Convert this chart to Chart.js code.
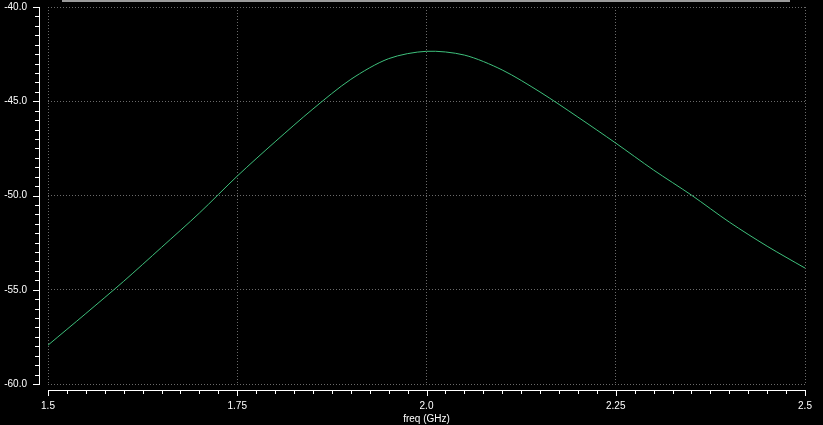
<!DOCTYPE html>
<html>
<head>
<meta charset="utf-8">
<script src="https://cdn.jsdelivr.net/npm/chart.js@4/dist/chart.umd.min.js"></script>
<style>
  html, body { margin: 0; padding: 0; background: #000; }
  #wrap { width: 823px; height: 425px; }
</style>
</head>
<body>
<div id="wrap"><canvas id="chart"></canvas></div>
<script>
/* values */
var freq = [1.5, 1.55, 1.6, 1.65, 1.7, 1.75, 1.8, 1.85, 1.9, 1.95, 2.0, 2.05,
            2.1, 2.15, 2.2, 2.25, 2.3, 2.35, 2.4, 2.45, 2.5];
var gain = [-57.94, -56.26, -54.55, -52.75, -50.93, -48.97, -47.15, -45.41, -43.84, -42.74, -42.35, -42.55,
            -43.34, -44.51, -45.84, -47.22, -48.65, -49.98, -51.41, -52.69, -53.85];

var xTicks = [1.5, 1.75, 2.0, 2.25, 2.5];
var xTickLabels = ['1.5', '1.75', '2.0', '2.25', '2.5'];
var yTicks = [-60, -55, -50, -45, -40];
var yTickLabels = ['-60.0', '-55.0', '-50.0', '-45.0', '-40.0'];

var FONT = { family: 'Liberation Sans, Arial, sans-serif', size: 10 };

/* keep the plot box where the picture has it */
function noPadding(scale) {
    scale.paddingTop = 0;
    scale.paddingBottom = 0;
    scale.paddingLeft = 0;
    scale.paddingRight = 0;
}

/* black page and the axis lines with their minor ticks */
var axesPlugin = {
    id: 'axes',
    beforeDraw: function(chart) {
        var ctx = chart.ctx;
        ctx.save();
        ctx.fillStyle = '#000';
        ctx.fillRect(0, 0, chart.width, chart.height);
        ctx.fillStyle = '#9a9a9a';
        ctx.fillRect(62, 0, 728, 2);
        ctx.restore();
    },
    afterDraw: function(chart) {
        var ctx = chart.ctx;
        var xs = chart.scales.x, ys = chart.scales.y;
        var area = chart.chartArea;
        var i, v, p, len;
        ctx.save();
        ctx.fillStyle = '#fff';

        // y axis
        ctx.fillRect(39, Math.round(area.top), 1, Math.round(area.bottom - area.top) + 1);
        for (i = 0; i <= 40; i++) {
            v = -60 + i * 0.5;
            p = Math.round(ys.getPixelForValue(v));
            len = (i % 10 === 0) ? 6 : 4;
            ctx.fillRect(39 - len, p, len, 1);
        }

        // x axis
        var axisY = Math.round(area.bottom) + 6;
        ctx.fillRect(Math.round(area.left), axisY, Math.round(area.right - area.left) + 1, 1);
        for (i = 0; i <= 40; i++) {
            v = 1.5 + i * 0.025;
            p = Math.round(xs.getPixelForValue(v));
            len = (i % 10 === 0) ? 6 : 4;
            ctx.fillRect(p, axisY, 1, len);
        }
        ctx.restore();
    }
};

var points = freq.map(function(f, i) { return { x: f, y: gain[i] }; });

new Chart(document.getElementById('chart'), {
    type: 'line',
    data: {
        datasets: [{
            data: points,
            borderColor: '#3ec07c',
            borderWidth: 1,
            pointRadius: 0,
            tension: 0.3,
            fill: false
        }]
    },
    options: {
        responsive: true,
        maintainAspectRatio: false,
        animation: false,
        layout: { padding: { top: 7, right: 18, left: 0, bottom: 0 } },
        plugins: {
            legend: { display: false },
            tooltip: { enabled: false }
        },
        scales: {
            x: {
                type: 'linear',
                min: 1.5,
                max: 2.5,
                afterBuildTicks: function(scale) {
                    scale.ticks = xTicks.map(function(v) { return { value: v }; });
                },
                afterFit: function(scale) {
                    scale.height = 41;
                    noPadding(scale);
                },
                ticks: {
                    color: '#fff',
                    font: FONT,
                    padding: 16,
                    maxRotation: 0,
                    autoSkip: false,
                    callback: function(v) {
                        var k = xTicks.indexOf(v);
                        return k >= 0 ? xTickLabels[k] : '';
                    }
                },
                grid: {
                    color: '#6a6a6a',
                    lineWidth: 1,
                    drawTicks: false
                },
                border: { display: false, dash: [1, 2] },
                title: {
                    display: true,
                    text: 'freq (GHz)',
                    color: '#fff',
                    font: FONT,
                    padding: { top: 0, bottom: 0 }
                }
            },
            y: {
                type: 'linear',
                min: -60,
                max: -40,
                afterBuildTicks: function(scale) {
                    scale.ticks = yTicks.map(function(v) { return { value: v }; });
                },
                afterFit: function(scale) {
                    scale.width = 48;
                    noPadding(scale);
                },
                ticks: {
                    color: '#fff',
                    font: FONT,
                    padding: 21,
                    autoSkip: false,
                    callback: function(v) {
                        var k = yTicks.indexOf(v);
                        return k >= 0 ? yTickLabels[k] : '';
                    }
                },
                grid: {
                    color: '#6a6a6a',
                    lineWidth: 1,
                    drawTicks: false
                },
                border: { display: false, dash: [1, 2] }
            }
        }
    },
    plugins: [axesPlugin]
});
</script>
</body>
</html>
